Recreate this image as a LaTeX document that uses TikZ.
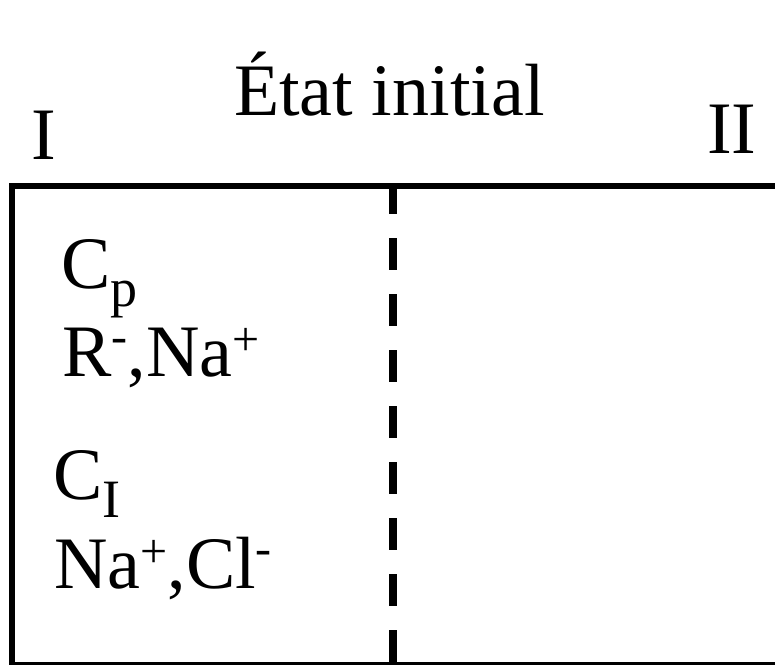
\documentclass[tikz,border=0pt]{standalone}
\usepackage{fontspec}
\setmainfont{Liberation Serif}
\newcommand{\lowsub}[1]{\raisebox{-18pt}{\fontsize{54}{54}\selectfont #1}}
\newcommand{\highsup}[2]{\raisebox{#1}{\fontsize{48}{48}\selectfont #2}}
\begin{document}
\begin{tikzpicture}[x=1pt,y=-1pt,
  lbl/.style={inner sep=0pt,anchor=base west,font=\fontsize{74}{74}\selectfont},
  boxtxt/.style={inner sep=0pt,anchor=base west,font=\fontsize{74}{74}\selectfont},
  wall/.style={line width=6pt},
  membrane/.style={line width=7.5pt,dash pattern=on 32pt off 24pt,dash phase=4pt}]
\useasboundingbox (0,0) rectangle (775,664);
\coordinate (mtop) at (393,186);
\coordinate (mbot) at (393,664);
\draw[membrane] (mtop) -- (mbot);
\draw[wall] (12,186) rectangle (779,665);
\node[lbl] (title) at (234,115) {État initial};
\node[lbl] (one) at (31,159) {I};
\node[lbl] (two) at (707,153) {II};
\node[boxtxt] (cp) at (61,288) {C\lowsub{p}};
\node[boxtxt] (rna) at (62,376) {R\highsup{24pt}{-},Na\highsup{21pt}{+}};
\node[boxtxt] (ci) at (53,499) {C\lowsub{I}};
\node[boxtxt] (nacl) at (54,588) {Na\highsup{21pt}{+},Cl\highsup{24pt}{-}};
\end{tikzpicture}
\end{document}
